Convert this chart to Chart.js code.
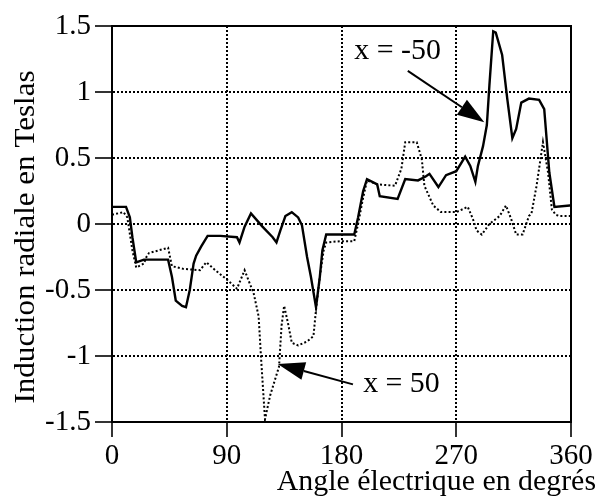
<!DOCTYPE html>
<html>
<head>
  <meta charset="UTF-8">
  <title>Induction radiale</title>
  <style>
    body { margin: 0; background: #fff; }
    canvas { display: block; }
  </style>
  <script src="https://cdn.jsdelivr.net/npm/chart.js"></script>
</head>
<body>
  <canvas id="chart" width="599" height="504"></canvas>

  <script>
  // x = -50 (solid)
  const solidDeg = [0, 11, 14, 16, 19, 25, 35, 44, 47, 50, 55, 58, 61, 64, 66, 70, 75, 85, 98, 100,
    104, 109, 118, 126, 129, 132, 136, 141, 146, 149, 153, 156, 160, 163, 165, 168, 179, 190, 193, 197,
    200, 208, 210, 224, 230, 240, 246, 249, 256, 262, 270, 277, 281, 285, 287, 291, 294, 296, 299, 301,
    306, 310, 314, 317, 321, 327, 335, 339, 343, 347, 359, 360];
  const solidVal = [0.13, 0.13, 0.05, -0.1, -0.29, -0.27, -0.27, -0.27, -0.4, -0.58, -0.62, -0.63, -0.5, -0.3, -0.24, -0.17, -0.09, -0.09, -0.1, -0.14,
    -0.02, 0.08, -0.02, -0.1, -0.14, -0.05, 0.06, 0.09, 0.05, -0.01, -0.25, -0.4, -0.63, -0.4, -0.2, -0.08, -0.08, -0.08, 0.05, 0.25,
    0.34, 0.3, 0.21, 0.19, 0.34, 0.33, 0.36, 0.38, 0.28, 0.37, 0.4, 0.51, 0.44, 0.32, 0.44, 0.59, 0.75, 1.05, 1.46, 1.45,
    1.28, 0.95, 0.65, 0.72, 0.92, 0.95, 0.94, 0.87, 0.39, 0.13, 0.14, 0.14];

  // x = 50 (dotted)
  const dotDeg = [0, 9, 12, 16, 19, 25, 27, 29, 44, 47, 56, 69, 74, 81, 90, 98, 104, 108, 111, 115,
    117, 120, 124, 131, 133, 135, 138, 141, 146, 153, 158, 160, 163, 166, 168, 179, 190, 193, 197, 200,
    208, 222, 227, 230, 239, 243, 245, 252, 258, 270, 279, 283, 286, 290, 296, 304, 309, 313, 317, 322,
    327, 329, 333, 338, 342, 345, 348, 351, 360];
  const dotVal = [0.07, 0.09, 0.05, -0.2, -0.33, -0.3, -0.25, -0.22, -0.18, -0.32, -0.34, -0.35, -0.29, -0.35, -0.42, -0.49, -0.35, -0.45, -0.52, -0.7,
    -1.03, -1.48, -1.3, -1.08, -0.77, -0.62, -0.75, -0.9, -0.92, -0.89, -0.85, -0.65, -0.4, -0.2, -0.14, -0.13, -0.13, 0.0, 0.2, 0.33,
    0.3, 0.29, 0.42, 0.62, 0.62, 0.49, 0.29, 0.14, 0.09, 0.09, 0.13, 0.04, -0.05, -0.08, 0.0, 0.06, 0.14, 0.04, -0.08, -0.08,
    0.06, 0.08, 0.29, 0.62, 0.39, 0.11, 0.07, 0.06, 0.06];

  const xTicks = [0, 90, 180, 270, 360];
  const yTicks = [-1.5, -1, -0.5, 0, 0.5, 1, 1.5];
  const yTickLabels = ['-1.5', '-1', '-0.5', '0', '0.5', '1', '1.5'];

  const xTitle = 'Angle électrique en degrés';
  const yTitle = 'Induction radiale en Teslas';

  // annotations: label text + arrow (data coords)
  const noteText = ['x = -50', 'x = 50'];
  const noteDeg = [224, 227];
  const noteVal = [1.31, -1.215];
  const arrowFromDeg = [232, 189];
  const arrowFromVal = [1.16, -1.215];
  const arrowToDeg = [292, 130];
  const arrowToVal = [0.77, -1.06];

  const FONT = '"Liberation Serif", "Times New Roman", serif';

  const toPts = (xs, ys) => xs.map((x, i) => ({ x: x, y: ys[i] }));

  // scanned text is a bit wider than Liberation Serif
  function wideText(ctx, txt, x, y, k) {
    ctx.save();
    ctx.translate(x, y);
    ctx.scale(k, 1);
    ctx.fillText(txt, 0, 0);
    ctx.restore();
  }

  // frame, axis titles, arrows and labels
  const extras = {
    id: 'extras',
    afterDraw(chart) {
      const ctx = chart.ctx;
      const a = chart.chartArea;
      const sx = chart.scales.x, sy = chart.scales.y;
      ctx.save();
      ctx.strokeStyle = '#000';
      ctx.lineWidth = 2;
      ctx.strokeRect(a.left, a.top, a.right - a.left, a.bottom - a.top);

      ctx.fillStyle = '#000';
      ctx.font = '29px ' + FONT;
      ctx.textAlign = 'right';
      ctx.textBaseline = 'alphabetic';
      wideText(ctx, xTitle, 596, 490, 1.03);

      ctx.save();
      ctx.translate(34, 237);
      ctx.rotate(-Math.PI / 2);
      ctx.textAlign = 'center';
      wideText(ctx, yTitle, 0, 0, 1.07);
      ctx.restore();

      for (let i = 0; i < noteText.length; i++) {
        ctx.textAlign = 'center';
        ctx.textBaseline = 'middle';
        wideText(ctx, noteText[i], sx.getPixelForValue(noteDeg[i]), sy.getPixelForValue(noteVal[i]), 1.03);

        const x0 = sx.getPixelForValue(arrowFromDeg[i]), y0 = sy.getPixelForValue(arrowFromVal[i]);
        const x1 = sx.getPixelForValue(arrowToDeg[i]), y1 = sy.getPixelForValue(arrowToVal[i]);
        const ang = Math.atan2(y1 - y0, x1 - x0);
        const hl = 27, hw = 9;
        const bx = x1 - hl * Math.cos(ang), by = y1 - hl * Math.sin(ang);
        ctx.lineWidth = 2;
        ctx.beginPath();
        ctx.moveTo(x0, y0);
        ctx.lineTo(bx, by);
        ctx.stroke();
        ctx.beginPath();
        ctx.moveTo(x1, y1);
        ctx.lineTo(bx + hw * Math.sin(ang), by - hw * Math.cos(ang));
        ctx.lineTo(bx - hw * Math.sin(ang), by + hw * Math.cos(ang));
        ctx.closePath();
        ctx.fill();
      }
      ctx.restore();
    }
  };

  new Chart(document.getElementById('chart').getContext('2d'), {
    type: 'line',
    data: {
      datasets: [{
        label: 'x = -50',
        data: toPts(solidDeg, solidVal),
        borderColor: '#000',
        borderWidth: 2.4,
        pointRadius: 0,
        tension: 0,
        fill: false
      }, {
        label: 'x = 50',
        data: toPts(dotDeg, dotVal),
        borderColor: '#000',
        borderWidth: 2,
        borderDash: [2, 2.2],
        pointRadius: 0,
        tension: 0,
        fill: false
      }]
    },
    options: {
      responsive: false,
      animation: false,
      layout: { padding: { top: 26, right: 28, left: 0, bottom: 0 } },
      plugins: { legend: { display: false }, tooltip: { enabled: false } },
      scales: {
        x: {
          type: 'linear',
          min: 0, max: 360,
          afterFit: s => { s.height = 82; },
          afterBuildTicks: s => { s.ticks = xTicks.map(v => ({ value: v })); },
          grid: {
            color: '#000', lineWidth: 2,
            tickLength: 15, tickBorderDash: [], tickWidth: 1.6, tickColor: '#000'
          },
          border: { display: true, color: '#000', width: 2, dash: [2, 2] },
          ticks: { color: '#000', font: { family: FONT, size: 29 }, padding: 2, maxRotation: 0 }
        },
        y: {
          type: 'linear',
          min: -1.5, max: 1.5,
          afterFit: s => { s.width = 112; },
          afterBuildTicks: s => { s.ticks = yTicks.map(v => ({ value: v })); },
          grid: {
            color: '#000', lineWidth: 2,
            tickLength: 17, tickBorderDash: [], tickWidth: 1.6, tickColor: '#000'
          },
          border: { display: true, color: '#000', width: 2, dash: [2, 2] },
          ticks: {
            color: '#000', font: { family: FONT, size: 29 }, padding: 4,
            callback: v => yTickLabels[yTicks.indexOf(v)]
          }
        }
      }
    },
    plugins: [extras]
  });
  </script>
</body>
</html>
